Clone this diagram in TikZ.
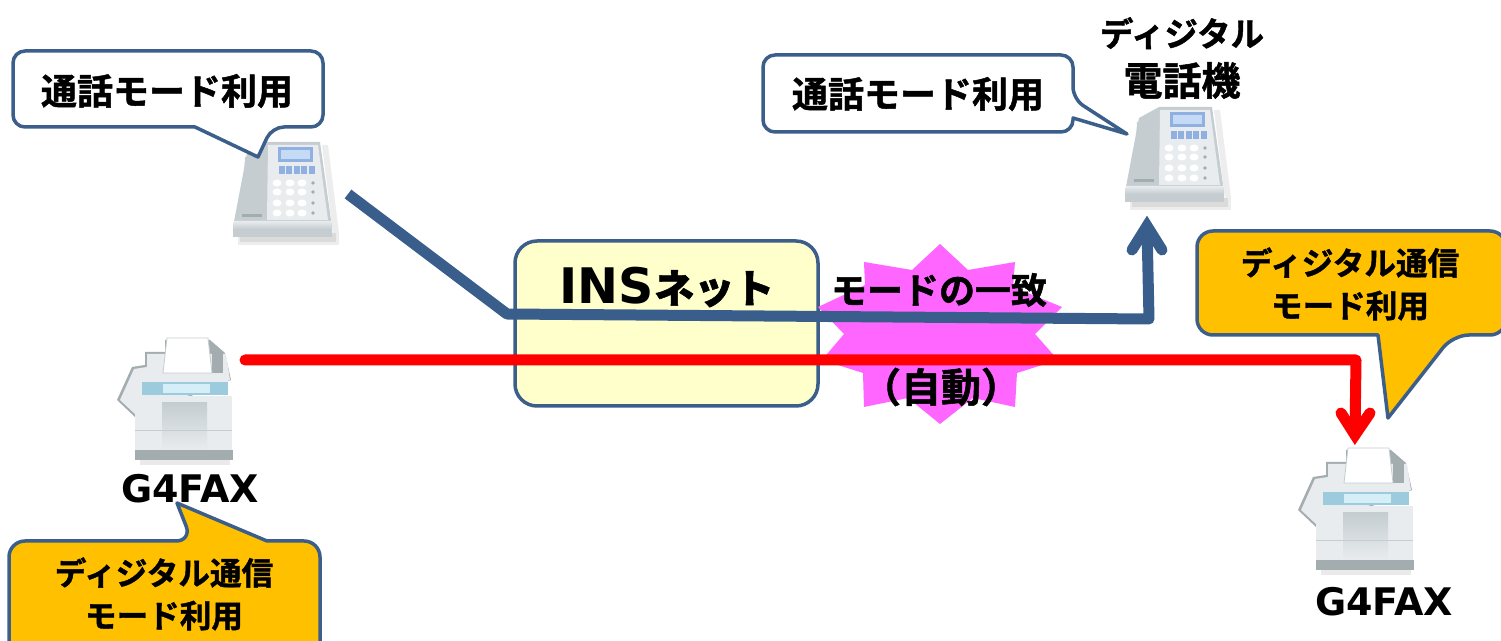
\documentclass[tikz,border=0pt]{standalone}
\usepackage{fontspec}
\setmainfont{DejaVu Sans}
\newfontfamily\jpfont[FakeBold=1.3]{Noto Sans CJK JP Bold}
\definecolor{edgeblue}{HTML}{3B5F8A}
\definecolor{flowblue}{HTML}{3A5E8C}
\definecolor{gold}{HTML}{FFC000}
\definecolor{cream}{HTML}{FFFFCC}
\definecolor{burst}{HTML}{FF66FF}
\definecolor{devlight}{HTML}{E8ECEE}
\definecolor{devmid}{HTML}{C5CDD0}
\definecolor{devdark}{HTML}{A3ACAF}
\definecolor{devshadow}{HTML}{B8B9BA}
\definecolor{screenb}{HTML}{8FB0E0}
\definecolor{screenl}{HTML}{C4DAF5}
\definecolor{faxb}{HTML}{9CCBDD}
\definecolor{faxl}{HTML}{D6EEF8}
\usetikzlibrary{arrows.meta,calc}
\tikzset{
  x=0.5pt,y=-0.5pt,
  calloutw/.style={draw=edgeblue,line width=1.75pt,fill=white,line join=round},
  calloutg/.style={draw=edgeblue,line width=1.75pt,fill=gold,line join=round},
  lab/.style={font=\jpfont\fontsize{18}{21}\selectfont,align=center,inner sep=0pt,text=black},
  labg/.style={font=\jpfont\fontsize{15.8}{21.3}\selectfont,align=center,inner sep=0pt,text=black},
  flow/.style={line width=5.5pt,line join=round},
  phone/.pic={
    \fill[devshadow,opacity=.25] (238,233) rectangle (339,245);
    \fill[devshadow,opacity=.35] (240,233) rectangle (336,242);
    \fill[devshadow,opacity=.25] (322,145) -- (328,145) -- (339,233) -- (333,233) -- cycle;
    \fill[devmid] (247,153) -- (267,142) -- (320,142) -- (332,227) -- (332,237) -- (233,237) -- (233,227) -- cycle;
    \fill[devlight] (268,145) -- (318,145) -- (328,220) -- (267,220) -- cycle;
    \shade[top color=devlight,bottom color=devmid] (234,221) -- (331,221) -- (332,229) -- (233,229) -- cycle;
    \fill[devmid] (245,157) -- (263,157) -- (262,217) -- (242,217) -- cycle;
    \fill[devdark] (242,214) rectangle (262,217);
    \fill[screenb] (278,147) rectangle (313,162);
    \fill[screenl] (281,150) rectangle (310,159);
    \foreach \px in {282,289,297,304,312}{
      \fill[screenb] ($(\px,168)+(-3,-2)$) rectangle ($(\px,168)+(3,2)$);
      \fill[screenb] ($(\px,172)+(-3,-1.5)$) rectangle ($(\px,172)+(3,2)$);
    }
    \foreach \py in {183,192,203,213}{
      \foreach \px in {277,290,302}{\fill[white] (\px,\py) ellipse[x radius=4.5,y radius=3.5];}
      \fill[devdark] (313,\py) circle[radius=1.8];
    }
  },
  faxpic/.pic={
    \fill[devdark] (145,352) -- (165,352) -- (165,340) -- (210,340) -- (225,353) -- (231,380) -- (136,418) -- (117,400) -- (132,367) -- (145,365) -- cycle;
    \fill[devlight] (147,354) -- (226,354) -- (230,380) -- (136,415) -- (120,400) -- (134,369) -- (147,367) -- cycle;
    \fill[devdark] (212,353) rectangle (223,373);
    \fill[white,draw=devmid] (163,373) -- (167,338) -- (208,338) -- (212,373) -- cycle;
    \fill[devlight] (137,374) rectangle (228,382);
    \fill[faxb] (142,382) rectangle (228,395);
    \fill[faxl] (163,384) rectangle (210,393);
    \fill[devlight] (135,396) rectangle (232,450);
    \shade[top color=devmid,bottom color=devlight] (162,403) rectangle (207,450);
    \fill[devmid] (135,430) rectangle (232,431);
    \fill[devdark] (135,450) rectangle (233,460);
    \fill[devshadow,opacity=.3] (140,460) rectangle (230,465);
  }
}
\begin{document}
\begin{tikzpicture}
\useasboundingbox (0,0) rectangle (1501,641);
% devices
\pic at (0,0) {phone};
\pic at (892,-35) {phone};
\pic at (0,0) {faxpic};
\pic at (1181,110) {faxpic};
% network box
\node[draw=edgeblue,line width=1.75pt,fill=cream,rounded corners=11pt,minimum width=151.5pt,minimum height=82.5pt,inner sep=0pt,outer sep=0pt,anchor=north west] (net) at (515,241) {};
\node[font=\bfseries\fontsize{24.5}{28}\selectfont,inner sep=0pt] (netlab) at (667,287) {INS{\jpfont\fontsize{20}{23}\selectfont ネット}};
% burst
\fill[burst] (940,244) -- (968,270) -- (1015,262) -- (1013,287) -- (1062,307) -- (1035,334) -- (1058,360) -- (1017,373) -- (1015,407) -- (973,398) -- (940,424) -- (908,398) -- (864,407) -- (863,373) -- (822,360) -- (844,334) -- (818,307) -- (865,285) -- (864,262) -- (912,270) -- cycle;
\node[lab] (mode) at (939,290) {モードの一致};
\node[lab,font=\jpfont\fontsize{20}{24}\selectfont] (auto) at (941,387) {（自動）};
% callouts
\draw[calloutw,rounded corners=6pt] (13,51) -- (323,51) -- (323,127) -- (272,127) [sharp corners] -- (258,157) -- (195,127) [rounded corners=6pt] -- (13,127) -- cycle;
\node[lab] (c1) at (167,91) {通話モード利用};
\draw[calloutw,rounded corners=6pt] (763,55) -- (1073,55) -- (1073,99) [sharp corners] -- (1127,134) -- (1073,118) [rounded corners=6pt] -- (1073,132) -- (763,132) -- cycle;
\node[lab] (c2) at (918,94) {通話モード利用};
\draw[calloutg,rounded corners=8pt] (1197,231) -- (1506,231) -- (1506,335) -- (1453,335) [sharp corners] -- (1388,418) -- (1378,335) [rounded corners=8pt] -- (1197,335) -- cycle;
\node[labg] (c3) at (1350,284) {ディジタル通信\\モード利用};
\draw[calloutg,rounded corners=8pt] (9,541) -- (192,541) [sharp corners] -- (177,503) -- (267,541) [rounded corners=8pt] -- (320,541) -- (320,670) -- (9,670) -- cycle;
\node[labg] (c4) at (164,594) {ディジタル通信\\モード利用};
% device labels
\node[lab,font=\jpfont\fontsize{16.7}{24.5}\selectfont] (phonelab) at (1182,58) {ディジタル\\{\fontsize{19.5}{24.5}\selectfont 電話機}};
\node[font=\bfseries\fontsize{19}{23}\selectfont,inner sep=0pt] (fax1) at (190,489) {G4FAX};
\node[font=\bfseries\fontsize{19}{23}\selectfont,inner sep=0pt] (fax2) at (1384,602) {G4FAX};
% flows
\coordinate (bs) at (348,194);
\coordinate (bk1) at (507,314);
\coordinate (bk2) at (1149,319);
\coordinate (be) at (1147,226);
\coordinate (bl) at (1132,250);
\coordinate (br) at (1162,250);
\coordinate (rs) at (245,360);
\coordinate (rk) at (1356,360);
\coordinate (re) at (1355,435);
\coordinate (rl) at (1341,413);
\coordinate (rr) at (1370,413);
\draw[flow,flowblue] (bs) -- (bk1) -- (bk2) -- (be);
\draw[flowblue,line width=5.5pt,line join=miter,line cap=round,miter limit=10] (bl) -- (be) -- (br);
\draw[flow,red,line cap=round] (rs) -- (rk) -- (re);
\draw[red,line width=5.5pt,line join=miter,line cap=round,miter limit=10] (rl) -- (re) -- (rr);
\end{tikzpicture}
\end{document}
